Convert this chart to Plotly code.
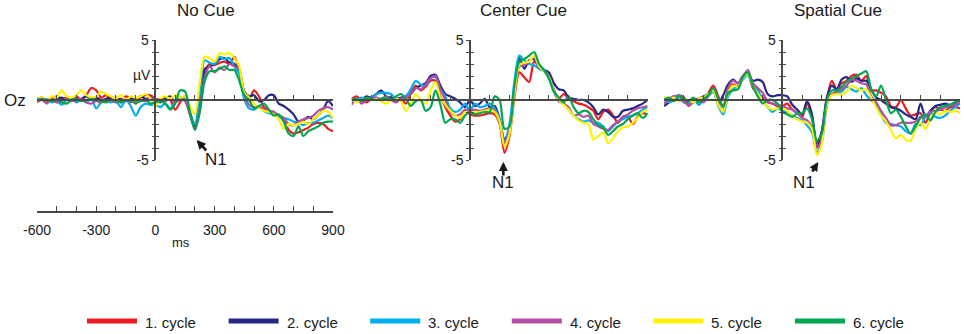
import plotly.graph_objects as go

# ---------------- data ----------------
times = list(range(-600, 901, 25))
cycle_names = ["1. cycle", "2. cycle", "3. cycle", "4. cycle", "5. cycle", "6. cycle"]
panel_titles = ["No Cue", "Center Cue", "Spatial Cue"]
y_tick_values = [-5, -4, -3, -2, -1, 0, 1, 2, 3, 4, 5]
y_tick_labels = ["-5", "", "", "", "", "", "", "", "", "", "5"]
ms_tick_values = list(range(-600, 901, 100))
ms_tick_labels = ["-600", "", "", "-300", "", "", "0", "", "", "300", "", "", "600", "", "", "900"]

# No Cue
nocue_1 = [0.1, 0.2, -0.1, 0.1, 0.3, 0.0, 0.2, 0.1, 0.3, 0.0, 0.4, 1.0, 0.8, 0.2, 0.4, 0.1, 0.2, -0.2, 0.3, 0.1, -0.3, 0.2, 0.4, 0.4,
           0.1, -0.1, 0.2, 0.0, -0.8, -0.2, 0.3, -1.2, -2.3, -0.8, 2.3, 3.0, 2.9, 3.1, 3.2, 3.0, 3.6, 2.5, 0.7, 0.1, 0.8, 0.3, -0.6, -0.9, -1.0, -1.3, -1.5, -2.5, -2.8, -2.7, -2.5, -2.3, -2.0, -1.9, -2.0, -2.4, -2.6]
nocue_2 = [0.0, 0.1, 0.0, -0.1, 0.1, 0.2, 0.0, 0.1, -0.1, 0.1, 0.3, 0.1, 0.2, 0.0, 0.1, 0.2, 0.0, 0.1, -0.1, 0.2, 0.1, 0.3, 0.1, 0.2,
           0.0, -0.2, 0.1, 0.3, -0.2, 0.1, 0.2, -1.0, -2.2, -0.5, 2.6, 2.8, 3.0, 3.4, 3.5, 3.1, 3.0, 2.3, 0.7, 0.3, 0.4, -0.1, 0.0, 0.4, 0.4, -0.3, -0.5, -0.8, -1.2, -1.8, -1.7, -1.4, -1.6, -1.3, -0.8, -0.1, -0.5]
nocue_3 = [0.2, 0.0, 0.1, -0.2, -0.1, -0.4, 0.0, 0.1, -0.2, 0.0, -0.2, 0.1, -0.7, -0.2, 0.0, -0.2, -0.1, -0.6, 0.0, -0.5, -1.3, -0.6, -0.3, -0.4,
           -0.4, -0.6, -0.3, -0.7, -0.2, 0.2, 0.0, -1.1, -2.0, 0.5, 3.3, 3.1, 3.0, 3.6, 3.4, 3.5, 2.8, 2.2, 0.1, -0.7, -0.8, -0.6, -0.9, -1.1, -1.2, -1.4, -1.5, -1.6, -1.8, -1.9, -2.1, -1.9, -1.9, -1.7, -1.5, -1.3, -1.5]
nocue_4 = [-0.2, 0.0, -0.3, 0.1, -0.2, -0.1, 0.1, -0.1, 0.0, 0.1, -0.2, -0.3, -0.1, -0.2, -0.1, 0.0, -0.2, -0.1, 0.0, -0.2, 0.1, 0.0, -0.1, 0.2,
           0.0, 0.1, -0.1, 0.2, -0.2, 0.1, -0.1, -1.2, -2.4, -0.8, 1.9, 2.8, 2.3, 2.7, 2.5, 3.0, 2.8, 2.6, 0.5, -0.4, -0.6, -0.5, -0.8, -0.9, -1.0, -1.3, -1.5, -2.0, -2.1, -1.8, -1.6, -1.5, -1.3, -0.9, -0.7, -0.6, -0.8]
nocue_5 = [0.1, 0.2, 0.0, 0.3, 0.2, 0.8, 0.3, 0.2, 0.4, 0.8, 0.4, 0.2, 0.3, 0.7, 0.5, 0.3, 0.1, 0.4, 0.0, 0.3, 0.2, 0.3, 0.5, 0.1,
           -0.5, 0.1, 0.3, 0.1, 0.4, 0.2, 0.3, -0.5, -1.2, 1.5, 3.6, 3.5, 3.2, 3.9, 3.8, 3.9, 3.5, 2.8, 0.6, 0.2, -0.3, -0.7, -0.9, -1.0, -1.2, -1.6, -2.4, -2.0, -2.1, -2.0, -1.8, -2.0, -1.6, -1.3, -0.9, -1.0, -1.5]
nocue_6 = [0.0, 0.1, 0.0, -0.1, 0.0, -0.2, -0.3, 0.0, 0.1, -0.1, 0.0, 0.1, 0.0, -0.1, -0.2, 0.0, -0.1, -0.2, 0.0, -0.1, -0.2, -0.1, 0.0, -0.3,
           -0.2, -0.1, -0.3, -0.8, -0.3, 0.8, 0.7, -1.0, -2.5, -1.0, 1.6, 2.4, 2.4, 2.6, 2.8, 2.5, 2.5, 1.6, 0.4, 0.0, -0.7, -0.5, -0.3, -0.8, -1.3, -1.2, -1.8, -2.8, -3.0, -2.2, -3.0, -2.6, -2.4, -2.2, -1.9, -1.8, -1.8]

# Center Cue
center_1 = [0.1, 0.3, 0.0, -0.2, 0.1, 0.2, 0.0, 0.1, 0.2, 0.0, 0.1, -0.3, 0.6, 1.2, 0.8, 1.1, 1.6, 1.6, 0.3, -0.6, -1.3, -1.8, -1.6, -0.9,
            -1.2, -1.3, -1.3, -1.2, -1.1, -1.2, -2.0, -4.4, -3.0, 0.2, 2.3, 1.9, 1.5, 3.2, 2.9, 2.5, 2.0, 0.9, 0.1, 0.5, 0.1, -0.1, -0.3, -0.4, -0.6, -0.9, -1.6, -1.0, -0.8, -1.3, -1.9, -1.4, -1.4, -2.0, -1.4, -1.1, -1.2]
center_2 = [0.1, -0.1, 0.0, 0.3, 0.2, 0.5, 0.8, 0.3, 0.2, 0.1, 0.2, 0.3, 0.5, 1.0, 1.2, 1.4, 2.0, 2.1, 1.2, 0.5, 0.3, 0.1, -0.2, -0.6,
            0.0, -0.5, -0.3, 0.1, -0.6, -0.5, -1.6, -3.3, -2.4, 0.8, 3.5, 2.6, 3.3, 3.4, 2.7, 2.5, 2.3, 1.4, 0.9, 0.8, 0.2, 0.1, 0.0, 0.0, -0.2, -0.6, -1.2, -0.8, -1.0, -1.4, -1.4, -0.9, -0.8, -0.7, -0.5, -0.3, 0.0]
center_3 = [-0.2, 0.0, 0.2, 0.0, 0.1, 0.5, 0.6, 0.6, 0.5, 0.1, 0.0, 0.3, 0.9, 1.6, 1.3, 1.2, 1.8, 1.9, 0.9, 0.3, -0.7, -1.0, -0.8, -0.3,
            -0.9, -0.3, -0.6, -0.5, -0.3, -0.7, -1.6, -3.5, -2.0, 1.5, 3.7, 3.3, 3.0, 2.9, 2.6, 2.4, 1.8, 0.7, -0.1, -0.3, -0.8, -1.3, -1.6, -1.8, -1.7, -1.9, -1.9, -2.2, -2.6, -2.2, -1.8, -1.6, -1.4, -1.3, -1.1, -0.8, -0.6]
center_4 = [-0.4, 0.1, -0.3, 0.0, 0.1, 0.2, 0.1, 0.3, 0.0, -0.2, 0.1, 0.2, 0.5, 1.0, 0.9, 1.3, 1.8, 2.0, 0.9, 0.0, -1.0, -1.3, -1.2, -0.8,
            -0.9, -0.8, -0.9, -0.8, -0.7, -0.9, -1.8, -3.6, -2.6, 0.6, 2.8, 2.9, 3.2, 3.6, 2.7, 2.5, 2.0, 0.8, -0.1, -0.3, -0.6, -1.3, -1.2, -1.4, -1.3, -2.0, -2.2, -2.4, -2.5, -2.1, -1.8, -1.4, -1.2, -0.9, -0.7, -0.6, -0.5]
center_5 = [0.1, -0.2, 0.0, 0.1, 0.0, 0.1, -0.1, -0.3, 0.0, 0.1, -0.1, -0.9, -0.3, 0.5, 0.0, -0.3, 0.8, 1.5, 0.2, -0.4, -0.9, -1.3, -1.5, -1.0,
            -1.1, -1.0, -1.0, -0.9, -0.8, -1.0, -1.8, -3.9, -2.8, 0.5, 2.9, 3.1, 3.2, 3.7, 2.8, 2.4, 1.9, 0.8, 0.0, -0.4, -0.8, -1.3, -1.7, -1.9, -2.0, -3.3, -3.0, -2.7, -3.6, -3.2, -2.6, -2.3, -2.2, -1.9, -1.5, -1.0, -0.8]
center_6 = [0.0, 0.1, -0.1, 0.2, 0.1, 0.0, 0.1, 0.2, 0.0, 0.3, 0.5, 0.1, -0.5, -0.1, 0.0, -0.9, -0.6, 0.8, -0.4, -1.9, -1.6, -1.6, -1.9, -1.3,
            -1.0, -1.2, -1.1, -1.0, -1.0, 0.3, 0.0, -2.4, -2.2, 1.2, 3.2, 3.4, 3.7, 4.0, 3.0, 2.5, 1.8, 0.7, 0.2, -0.2, 0.3, -0.6, -1.1, -0.9, -1.0, -1.6, -2.1, -2.3, -2.9, -2.6, -2.2, -2.0, -1.6, -1.3, -1.1, -1.5, -1.1]

# Spatial Cue
spatial_1 = [0.1, -0.1, 0.2, 0.4, 0.2, -0.5, -0.1, 0.1, 0.0, 0.6, 1.2, 0.3, -0.5, 0.8, 1.3, 1.1, 1.8, 2.2, 1.0, 0.6, 0.2, -0.2, -0.3, -0.5,
             -0.5, -0.3, -0.8, -1.1, -1.4, -0.3, -1.5, -3.6, -2.6, 0.0, 1.6, 0.9, 1.4, 1.6, 2.0, 2.1, 1.6, 2.0, 0.8, 0.8, 0.6, 0.3, -0.5, -0.6, 0.0, -0.7, -1.3, -1.2, -1.1, -1.9, -1.0, -0.6, -0.8, -0.9, -0.6, -0.6, -0.7]
spatial_2 = [-0.5, -0.2, 0.3, 0.0, 0.2, -0.2, 0.0, 0.1, 0.3, 0.5, 0.8, -0.3, 0.4, 1.3, 1.7, 1.4, 2.0, 2.2, 1.6, 1.7, 1.5, 0.5, 0.3, 0.4,
             0.4, 0.3, -0.4, -0.8, -1.2, -0.1, -1.2, -3.9, -2.6, 0.2, 1.2, 0.9, 1.7, 1.9, 1.5, 1.8, 1.6, 1.6, 0.9, 0.2, 0.0, -0.3, -0.6, -0.7, -0.9, -1.2, -1.4, -1.6, -0.3, -1.4, -0.9, -0.5, -0.4, -0.3, -0.4, -0.2, 0.0]
spatial_3 = [0.2, -0.2, 0.0, 0.4, -0.2, -0.3, 0.1, -0.4, 0.0, 0.3, 0.7, -0.5, -1.2, 0.3, 0.9, 1.2, 1.7, 2.1, 1.2, 0.8, 0.0, -0.6, -1.0, -0.7,
             -0.9, -1.0, -1.3, -1.5, -1.7, -2.1, -2.7, -4.4, -3.5, -0.5, 0.5, 0.6, 0.7, 1.1, 0.9, 0.7, 1.0, 0.4, 0.0, -0.4, -1.2, -1.9, -2.0, -2.1, -2.2, -2.6, -2.8, -2.0, -2.1, -1.4, -1.1, -1.4, -1.5, -1.3, -0.9, -0.6, -0.3]
spatial_4 = [-0.3, 0.1, 0.3, 0.0, -0.1, -0.4, -0.2, 0.0, -0.2, 0.4, 0.8, -0.3, -1.0, 1.0, 1.6, 1.4, 2.0, 2.5, 1.4, 1.0, 0.6, -0.1, -0.3, -0.4,
             -0.5, -0.7, -0.8, -1.1, -1.5, -1.7, -2.3, -4.0, -3.3, -0.3, 0.5, 0.7, 0.9, 1.2, 1.7, 1.6, 1.4, 1.3, 0.3, -0.2, -0.9, -1.5, -2.1, -2.1, -1.9, -1.9, -1.9, -1.8, -1.4, -1.3, -1.0, -0.9, -0.8, -0.6, -0.5, -0.4, -0.1]
spatial_5 = [0.3, 0.0, 0.2, -0.1, 0.1, 0.0, -0.2, 0.1, 0.2, 0.5, 0.8, -0.4, -1.0, 0.6, 1.2, 1.1, 1.8, 2.2, 1.2, 0.5, 0.0, -0.6, -0.8, -0.7,
             -0.7, -0.9, -1.4, -1.6, -1.8, -1.9, -2.4, -4.6, -3.6, -0.4, 0.4, 0.5, 0.5, 0.7, 1.2, 1.0, 0.8, 0.9, 0.2, -0.6, -1.3, -1.8, -2.5, -3.2, -2.9, -3.3, -3.4, -2.4, -1.9, -2.4, -1.6, -1.0, -1.2, -0.9, -1.0, -0.9, -1.1]
spatial_6 = [0.0, 0.2, -0.1, 0.3, 0.1, -0.1, 0.2, -0.2, 0.1, 0.4, 1.0, 0.1, -0.6, 0.6, 0.8, 0.9, 1.9, 2.3, 1.2, 0.3, -0.3, 0.0, 0.0, -0.3,
             -1.0, -1.2, -1.4, -1.1, -1.1, -0.7, -1.6, -3.4, -2.8, 0.0, 0.8, 0.8, 1.1, 1.5, 1.8, 2.0, 2.2, 2.4, 0.9, 0.3, 1.2, 0.0, -1.1, -0.8, -1.4, -2.2, -2.8, -2.2, -1.5, -1.2, -1.7, -1.0, -0.6, -0.5, -0.4, -0.2, 0.0]

panels = [
    [nocue_1, nocue_2, nocue_3, nocue_4, nocue_5, nocue_6],
    [center_1, center_2, center_3, center_4, center_5, center_6],
    [spatial_1, spatial_2, spatial_3, spatial_4, spatial_5, spatial_6],
]

# ---------------- styling / layout ----------------
W, H = 964, 334


def fx(px):
    return px / W


def fy(py):
    return (H - py) / H


colors = ["#ED1C24", "#262687", "#00AEEF", "#B24FA3", "#FFF200", "#00A651"]
axis_color = "#4a4a4a"
text_color = "#1a1a1a"
FONT = "Arial, 'Liberation Sans', sans-serif"

panel_px = [(37.0, 333.0), (351.6, 647.6), (664.0, 960.0)]
y_top_px, y_bot_px, zero_y_px = 40.0, 160.0, 100.0
title_px = [206, 523, 838]

fig = go.Figure()

layout = dict(
    width=W, height=H,
    margin=dict(l=0, r=0, t=0, b=0, pad=0, autoexpand=False),
    paper_bgcolor="white", plot_bgcolor="rgba(0,0,0,0)",
    showlegend=False,
    font=dict(family=FONT, color=text_color, size=13),
    annotations=[], shapes=[],
)

for p, series in enumerate(panels):
    s = "" if p == 0 else str(p + 1)
    xa, ya = "x" + s, "y" + s
    x0, x1 = panel_px[p]
    zero_px = x0 + (x1 - x0) * 600 / 1500
    for k, vals in enumerate(series):
        fig.add_trace(go.Scatter(
            x=times, y=vals, xaxis=xa, yaxis=ya, mode="lines",
            line=dict(color=colors[k], width=2.2, shape="spline", smoothing=0.8),
            name=cycle_names[k], showlegend=False, hoverinfo="skip"))
    # invisible trace for tick overlay axis
    fig.add_trace(go.Scatter(x=[None], y=[None], xaxis=xa, yaxis="y" + str(p + 4),
                             showlegend=False, hoverinfo="skip"))

    layout["xaxis" + s] = dict(
        domain=[fx(x0), fx(x1)], range=[-600, 900], anchor="free", position=fy(zero_y_px),
        showline=True, linecolor=axis_color, linewidth=1.5,
        ticks="inside", ticklen=4, tickwidth=1.3, tickcolor=axis_color,
        tickmode="linear", tick0=-600, dtick=100, showticklabels=False,
        showgrid=False, zeroline=False, fixedrange=True)
    layout["yaxis" + s] = dict(
        domain=[fy(y_bot_px), fy(y_top_px)], range=[-5, 5], anchor="free", position=fx(zero_px),
        showline=True, linecolor=axis_color, linewidth=1.5,
        ticks="outside", ticklen=3, tickwidth=1.3, tickcolor=axis_color,
        tickmode="array", tickvals=y_tick_values, ticktext=y_tick_labels,
        tickfont=dict(size=14, color=text_color),
        showgrid=False, zeroline=False, fixedrange=True)
    layout["yaxis" + str(p + 4)] = dict(
        overlaying=ya, range=[-5, 5], anchor="free", position=fx(zero_px),
        showline=False, ticks="inside", ticklen=3, tickwidth=1.3, tickcolor=axis_color,
        tickmode="array", tickvals=y_tick_values, showticklabels=False,
        showgrid=False, zeroline=False, fixedrange=True)

    layout["annotations"].append(dict(
        text=panel_titles[p], x=fx(title_px[p]), y=fy(10), xref="paper", yref="paper",
        xanchor="center", yanchor="middle", showarrow=False, font=dict(size=17)))

# bottom time axis of first panel
fig.add_trace(go.Scatter(x=[None], y=[None], xaxis="x4", yaxis="y", showlegend=False, hoverinfo="skip"))
layout["xaxis4"] = dict(
    overlaying="x", range=[-600, 900], anchor="free", position=fy(212),
    showline=True, linecolor=axis_color, linewidth=1.5,
    ticks="inside", ticklen=5, tickwidth=1.3, tickcolor=axis_color,
    tickmode="array", tickvals=ms_tick_values, ticktext=ms_tick_labels,
    tickfont=dict(size=14, color=text_color), ticklabelstandoff=5,
    showgrid=False, zeroline=False, fixedrange=True)

ann = layout["annotations"]
ann.append(dict(text="Oz", x=fx(2), y=fy(100), xref="paper", yref="paper",
                xanchor="left", yanchor="middle", showarrow=False, font=dict(size=17)))
ann.append(dict(text="µV", x=fx(153), y=fy(75), xref="paper", yref="paper",
                xanchor="right", yanchor="middle", showarrow=False, font=dict(size=14)))
ann.append(dict(text="ms", x=fx(181), y=fy(242), xref="paper", yref="paper",
                xanchor="center", yanchor="middle", showarrow=False, font=dict(size=13)))

# N1 markers (x in data coordinates, y in paper coordinates so they are never hidden)
arrow_style = dict(text="", showarrow=True, arrowhead=2, arrowsize=0.7, arrowwidth=2.6,
                   arrowcolor=text_color, standoff=0)
ann.append(dict(x=209, y=fy(140), xref="x", yref="paper", ax=11, ay=12, **arrow_style))
ann.append(dict(x=169, y=fy(162), xref="x2", yref="paper", ax=0, ay=15, **arrow_style))
ann.append(dict(x=182, y=fy(162), xref="x3", yref="paper", ax=-7, ay=11, **arrow_style))
for xr, xv, ypx in [("x", 307, 159), ("x2", 167, 183), ("x3", 107, 182)]:
    ann.append(dict(text="N1", x=xv, y=fy(ypx), xref=xr, yref="paper", xanchor="center", yanchor="middle",
                    showarrow=False, font=dict(size=17)))

# legend (drawn as short thick line samples + labels)
leg_x0, leg_dx, leg_y = 87, 141.6, 321
for k, name in enumerate(cycle_names):
    lx = leg_x0 + k * leg_dx
    layout["shapes"].append(dict(type="line", xref="paper", yref="paper",
                                 x0=fx(lx), x1=fx(lx + 50), y0=fy(leg_y), y1=fy(leg_y),
                                 line=dict(color=colors[k], width=5)))
    ann.append(dict(text=name, x=fx(lx + 56), y=fy(leg_y + 1), xref="paper", yref="paper",
                    xanchor="left", yanchor="middle", showarrow=False, font=dict(size=15)))

fig.update_layout(**layout)
# the page's default 8px body margin would shift the 964x334 figure; remove it
fig.write_html("out.html", config={"displayModeBar": False},
               post_script="document.body.style.margin='0px';")
